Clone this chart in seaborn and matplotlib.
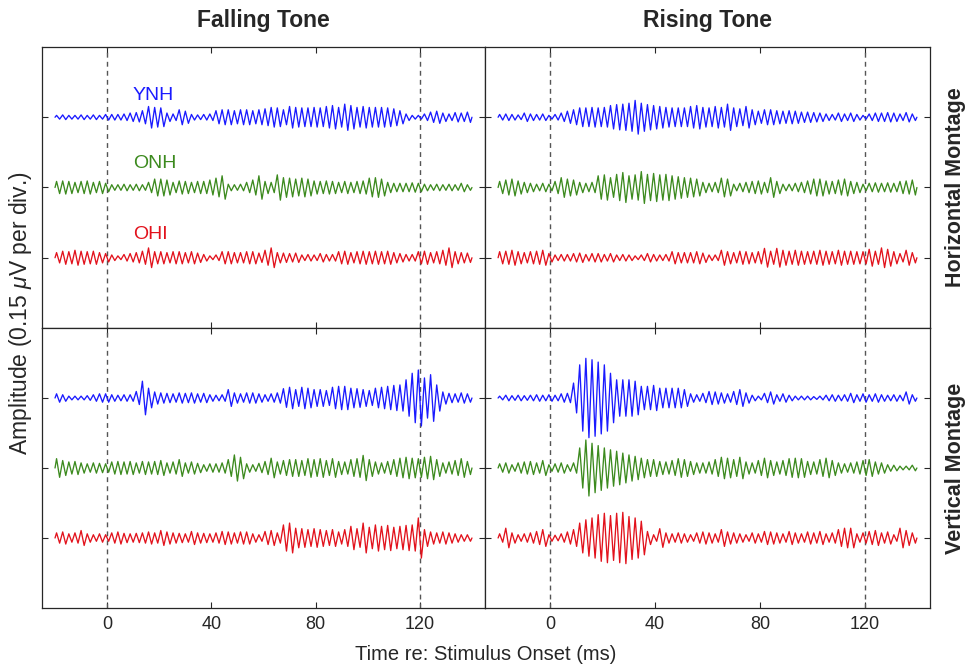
import numpy as np
import pandas as pd
import matplotlib
matplotlib.use("Agg")
import matplotlib.pyplot as plt
import seaborn as sns

# Analysis window (ms) and number of response cycles per trace
t_start, t_end = -20.0, 140.0
n_cycles = 68

groups = ["YNH", "ONH", "OHI"]
group_colors = {"YNH": "#1a1aff", "ONH": "#3c8a1e", "OHI": "#e2121c"}
group_offsets = {"YNH": 3, "ONH": 2, "OHI": 1}
tones = ["Falling Tone", "Rising Tone"]
montages = ["Horizontal Montage", "Vertical Montage"]
x_ticks = [0, 40, 80, 120]
stim_marks = [0, 120]
nv_per_div = 150.0

# Per-cycle response amplitude (nV, half peak-to-peak)
falling_h_ynh = [4, 5, 4, 4, 5, 4, 5, 4,
                 6, 6, 6, 7, 9, 10, 14, 23, 21, 20, 9, 7, 16, 13, 6,
                 5, 6, 7, 14, 16, 16, 14, 16, 16, 14,
                 16, 18, 21, 20, 16, 23, 21, 20, 20, 21,
                 20, 23, 25, 21, 28, 25, 21, 23, 21, 21,
                 21, 20, 18, 14, 7, 4, 4, 7, 11, 13,
                 9, 7, 10, 9, 11]
falling_h_onh = [13, 14, 13, 11, 13, 14, 11, 13,
                 9, 6, 6, 7, 6, 7, 6, 11, 18, 18,
                 16, 11, 14, 13, 11, 13, 13, 16, 20, 25,
                 7, 6, 7, 11, 16, 25, 13, 11, 27, 21,
                 20, 18, 20, 18, 14, 13, 14, 13, 11, 13,
                 11, 13, 14, 20, 21, 18, 11, 9, 9, 9,
                 10, 9, 7, 6, 7, 6, 7, 6, 9, 6]
falling_h_ohi = [11, 14, 13, 16, 14, 13, 14, 11,
                 9, 6, 4, 7, 9, 11, 14, 21, 13, 13,
                 11, 13, 13, 11, 13, 10, 7, 4, 6, 13,
                 13, 11, 11, 13, 13, 10, 16, 21, 11, 10,
                 9, 10, 6, 7, 6, 9, 7, 7, 13, 14,
                 11, 13, 14, 13, 14, 13, 14, 11, 9, 7,
                 7, 13, 14, 11, 13, 16, 21, 13, 11, 10]
falling_v_ynh = [9, 7, 4, 4, 4, 5, 7, 9,
                 9, 7, 6, 7, 7, 14, 36, 21, 13, 11,
                 10, 9, 11, 10, 11, 9, 10, 7, 6, 7,
                 18, 11, 9, 11, 11, 9, 7, 9, 11, 20,
                 23, 18, 23, 21, 18, 18, 16, 23, 25, 25,
                 21, 20, 18, 16, 21, 23, 25, 27, 28, 39,
                 53, 60, 43, 50, 28, 13, 10, 9, 11, 9]
falling_v_onh = [20, 16, 13, 14, 11, 9, 11, 10,
                 9, 13, 14, 13, 14, 11, 14, 13, 14, 16,
                 11, 13, 18, 11, 13, 10, 7, 9, 9, 11,
                 18, 28, 23, 9, 7, 10, 14, 21, 13, 16,
                 18, 18, 16, 20, 18, 20, 16, 20, 14, 13,
                 18, 20, 27, 18, 13, 11, 14, 18, 21, 23,
                 21, 20, 23, 25, 18, 11, 13, 16, 20, 14]
falling_v_ohi = [11, 13, 9, 11, 16, 9, 7, 9,
                 7, 11, 13, 10, 9, 10, 11, 13, 11, 16,
                 13, 11, 10, 9, 14, 11, 10, 9, 11, 14,
                 13, 11, 13, 13, 9, 7, 14, 16, 11, 28,
                 32, 21, 20, 18, 20, 18, 16, 18, 13, 18,
                 25, 20, 32, 23, 28, 25, 27, 23, 25, 27,
                 28, 43, 18, 13, 11, 13, 11, 9, 7, 7]
rising_h_ynh = [6, 7, 6, 5, 9, 7, 6, 7,
                4, 6, 9, 13, 16, 20, 20, 21, 20, 21,
                25, 27, 28, 30, 36, 30, 27, 25, 23, 21,
                20, 20, 20, 23, 25, 21, 20, 23, 21, 28,
                20, 18, 23, 16, 13, 16, 16, 14, 13, 14,
                13, 11, 11, 10, 9, 7, 6, 9, 7, 9,
                6, 4, 7, 9, 9, 10, 9, 7, 10, 7]
rising_h_onh = [13, 16, 18, 14, 11, 9, 7, 9,
                7, 13, 21, 18, 16, 11, 9, 11, 25, 27,
                21, 28, 32, 25, 27, 34, 28, 30, 27, 28,
                25, 23, 21, 20, 18, 11, 9, 11, 20, 18,
                7, 9, 11, 13, 14, 11, 21, 13, 7, 7,
                9, 11, 14, 18, 18, 14, 13, 16, 18, 13,
                11, 7, 9, 10, 9, 10, 9, 13, 14, 16]
rising_h_ohi = [13, 14, 16, 13, 11, 13, 14, 16,
                9, 6, 7, 7, 9, 10, 7, 9, 9, 7,
                9, 6, 7, 6, 4, 6, 9, 7, 6, 7,
                13, 11, 11, 11, 13, 10, 6, 6, 16, 13,
                11, 14, 13, 11, 13, 20, 14, 20, 16, 14,
                16, 14, 13, 14, 16, 14, 13, 16, 14, 14,
                13, 13, 18, 14, 21, 18, 13, 9, 16, 11]
rising_v_ynh = [4, 6, 5, 6, 5, 6, 7, 6,
                7, 6, 9, 10, 32, 71, 85, 82, 77, 71,
                53, 39, 39, 39, 36, 25, 25, 27, 21, 21,
                21, 21, 18, 9, 7, 10, 14, 13, 11, 9,
                14, 18, 11, 6, 4, 10, 13, 7, 9, 6,
                4, 4, 4, 3, 4, 6, 7, 6, 7, 10,
                7, 9, 7, 9, 7, 6, 7, 6, 13, 7]
rising_v_onh = [9, 11, 7, 11, 13, 14, 11, 16,
                7, 9, 11, 7, 11, 43, 60, 53, 48, 43,
                39, 36, 32, 28, 25, 21, 18, 18, 14, 13,
                16, 20, 18, 14, 11, 11, 13, 18, 23, 21,
                18, 23, 13, 11, 16, 21, 16, 13, 16, 20,
                21, 20, 14, 13, 18, 21, 16, 11, 9, 11,
                13, 16, 18, 13, 11, 7, 6, 4, 4, 6]
rising_v_ohi = [9, 21, 11, 7, 9, 11, 14, 18,
                7, 6, 9, 13, 18, 32, 39, 43, 50, 53,
                48, 53, 55, 46, 43, 36, 14, 7, 20, 11,
                9, 11, 9, 7, 11, 13, 11, 9, 18, 13,
                11, 9, 7, 11, 9, 14, 13, 11, 9, 14,
                11, 9, 13, 11, 14, 9, 11, 18, 21, 21,
                9, 11, 14, 16, 11, 13, 7, 21, 16, 11]

responses = {
    ("Falling Tone", "Horizontal Montage"): [falling_h_ynh, falling_h_onh, falling_h_ohi],
    ("Falling Tone", "Vertical Montage"): [falling_v_ynh, falling_v_onh, falling_v_ohi],
    ("Rising Tone", "Horizontal Montage"): [rising_h_ynh, rising_h_onh, rising_h_ohi],
    ("Rising Tone", "Vertical Montage"): [rising_v_ynh, rising_v_onh, rising_v_ohi],
}

# Long-form table: one row per waveform peak / trough
period = (t_end - t_start) / n_cycles
rows = []
for (tone, montage), traces in responses.items():
    for grp, amps in zip(groups, traces):
        off = group_offsets[grp]
        rows.append((tone, montage, grp, t_start, off))
        for k, a in enumerate(amps):
            rows.append((tone, montage, grp, t_start + (k + 0.25) * period, off + a / nv_per_div))
            rows.append((tone, montage, grp, t_start + (k + 0.75) * period, off - a / nv_per_div))
        rows.append((tone, montage, grp, t_end, off))
df = pd.DataFrame(rows, columns=["tone", "montage", "group", "time", "level"])

sns.set_style("white")
plt.rcParams["font.family"] = ["Liberation Sans", "DejaVu Sans"]
plt.rcParams["mathtext.fontset"] = "custom"
plt.rcParams["mathtext.it"] = "Liberation Sans:italic"
plt.rcParams["mathtext.rm"] = "Liberation Sans"

W, H = 976, 669
fig = plt.figure(figsize=(W / 100, H / 100), dpi=100)

col_px = [(42, 485), (485, 930)]
row_px = [(47, 328), (328, 608)]
axes = {}
for ci, tone in enumerate(tones):
    for ri, montage in enumerate(montages):
        x0, x1 = col_px[ci]
        y0, y1 = row_px[ri]
        ax = fig.add_axes([x0 / W, 1 - y1 / H, (x1 - x0) / W, (y1 - y0) / H])
        axes[(tone, montage)] = ax
        sub = df[(df.tone == tone) & (df.montage == montage)]
        for m in stim_marks:
            ax.axvline(m, color="#555555", lw=1.0, ls=(0, (3.5, 3)), zorder=1)
        sns.lineplot(data=sub, x="time", y="level", hue="group", hue_order=groups,
                     palette=group_colors, estimator=None, sort=False, lw=0.95,
                     legend=False, ax=ax, zorder=3)
        ax.set_xlim(-25, 145)
        ax.set_ylim(0, 4)
        ax.set_xticks(x_ticks)
        ax.set_yticks([1, 2, 3])
        ax.set_yticklabels([])
        ax.set_xlabel("")
        ax.set_ylabel("")
        ax.tick_params(direction="in", length=4, width=0.8, color="#262626",
                       top=True, right=True, left=True, bottom=True,
                       labelsize=13, pad=6, labelcolor="#262626")
        if ri == 0:
            ax.set_xticklabels([])
        for s in ax.spines.values():
            s.set_color("#262626")
            s.set_linewidth(0.9)

# Group labels in the first panel
ax0 = axes[("Falling Tone", "Horizontal Montage")]
for grp, yy in zip(groups, [3.31, 2.34, 1.33]):
    ax0.text(9.8, yy, grp, color=group_colors[grp], fontsize=14,
             ha="left", va="center")

for ci, tone in enumerate(tones):
    x0, x1 = col_px[ci]
    fig.text((x0 + x1) / 2 / W, 1 - 20 / H, tone, ha="center", va="center",
             fontsize=16.5, fontweight="bold")
for ri, montage in enumerate(montages):
    y0, y1 = row_px[ri]
    fig.text(955 / W, 1 - (y0 + y1) / 2 / H, montage, ha="center", va="center",
             rotation=90, fontsize=15.5, fontweight="bold")

fig.text(486 / W, 1 - 655 / H, "Time re: Stimulus Onset (ms)", ha="center",
         va="center", fontsize=14.5, color="#262626")
fig.text(21 / W, 1 - 313 / H, r"Amplitude (0.15 $\mu$V per div.)", ha="center",
         va="center", rotation=90, fontsize=16.5, color="#262626")

fig.savefig("out.png", dpi=100)
